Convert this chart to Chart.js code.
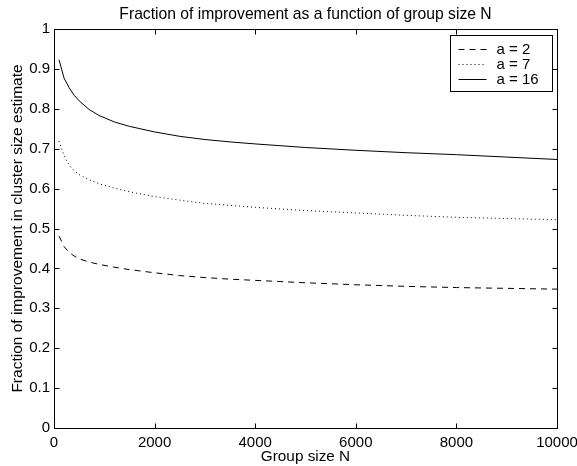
<!DOCTYPE html>
<html><head><meta charset="utf-8">
<script src="https://cdn.jsdelivr.net/npm/chart.js@4/dist/chart.umd.min.js"></script>
<style>html,body{margin:0;padding:0;background:#fff}#wrap{width:577px;height:466px}</style>
</head><body><div id="wrap"><canvas id="c" width="577" height="466"></canvas></div>
<script>
const chartTitle = 'Fraction of improvement as a function of group size N';
const xTitle = 'Group size N';
const yTitle = 'Fraction of improvement in cluster size estimate';
const groupSizes = [100,200,300,400,500,700,900,1200,1500,2000,2500,3000,3500,4000,5000,6000,7000,8000,9000,10000];
const fracA2  = [0.481,0.455,0.440,0.431,0.424,0.416,0.410,0.403,0.397,0.389,0.382,0.377,0.373,0.370,0.364,0.359,0.355,0.352,0.350,0.348];
const fracA7  = [0.719,0.682,0.659,0.645,0.635,0.622,0.612,0.601,0.592,0.580,0.571,0.563,0.558,0.553,0.545,0.539,0.533,0.528,0.525,0.522];
const fracA16 = [0.923,0.877,0.853,0.834,0.820,0.798,0.783,0.767,0.756,0.742,0.731,0.723,0.717,0.712,0.703,0.696,0.690,0.685,0.679,0.673];
const seriesLabels = ['a = 2','a = 7','a = 16'];
const xTickValues = [0,2000,4000,6000,8000,10000];
const xTickLabels = ['0','2000','4000','6000','8000','10000'];
const yTickValues = [0,0.1,0.2,0.3,0.4,0.5,0.6,0.7,0.8,0.9,1];
const yTickLabels = ['0','0.1','0.2','0.3','0.4','0.5','0.6','0.7','0.8','0.9','1'];

const FONT = 'Liberation Sans, Arial, Helvetica, sans-serif';
const dashStyles = [[6,5],[1,3],[]];
const seriesData = [fracA2, fracA7, fracA16];

const datasets = seriesData.map((arr, k) => ({
  label: seriesLabels[k],
  data: groupSizes.map((n, i) => ({x: n, y: arr[i]})),
  borderColor: '#000',
  borderWidth: 1,
  borderDash: dashStyles[k],
  pointRadius: 0,
  fill: false,
  tension: 0
}));

const matlabAxes = {
  id: 'matlabAxes',
  afterDraw(chart) {
    const ctx = chart.ctx, ca = chart.chartArea;
    const xs = chart.scales.x, ys = chart.scales.y;
    const L = Math.round(ca.left) + 0.5, R = Math.round(ca.right) + 0.5;
    const T = Math.round(ca.top) + 0.5, B = Math.round(ca.bottom) + 0.5;
    ctx.save();
    ctx.strokeStyle = '#000';
    ctx.lineWidth = 1;
    ctx.setLineDash([]);
    ctx.strokeRect(L, T, R - L, B - T);
    const tl = 5;
    ctx.beginPath();
    xTickValues.forEach(v => {
      const px = Math.round(xs.getPixelForValue(v)) + 0.5;
      ctx.moveTo(px, B); ctx.lineTo(px, B - tl);
      ctx.moveTo(px, T); ctx.lineTo(px, T + tl);
    });
    yTickValues.forEach(v => {
      const py = Math.round(ys.getPixelForValue(v)) + 0.5;
      ctx.moveTo(L, py); ctx.lineTo(L + tl, py);
      ctx.moveTo(R, py); ctx.lineTo(R - tl, py);
    });
    ctx.stroke();
    // legend
    const bw = 102, bh = 56;
    const bx = Math.round(ca.right) - 5 - bw + 0.5, by = Math.round(ca.top) + 6 + 0.5;
    ctx.fillStyle = '#fff';
    ctx.fillRect(bx, by, bw, bh);
    ctx.strokeRect(bx, by, bw, bh);
    ctx.font = '15px ' + FONT;
    ctx.textBaseline = 'middle';
    ctx.textAlign = 'left';
    chart.data.datasets.forEach((ds, k) => {
      const yy = Math.round(by + 13 + k * 15) + 0.5;
      ctx.beginPath();
      ctx.setLineDash(ds.borderDash);
      ctx.moveTo(bx + 8, yy); ctx.lineTo(bx + 36, yy);
      ctx.stroke();
      ctx.setLineDash([]);
      ctx.fillStyle = '#000';
      ctx.fillText(ds.label, bx + 46, yy);
    });
    ctx.restore();
  }
};

new Chart(document.getElementById('c'), {
  type: 'line',
  data: { datasets },
  options: {
    responsive: false,
    devicePixelRatio: 1,
    animation: false,
    layout: { autoPadding: false, padding: { left: 0, right: 20, top: 0, bottom: 0 } },
    plugins: {
      legend: { display: false },
      tooltip: { enabled: false },
      title: {
        display: true, fullSize: false, text: chartTitle, color: '#000',
        font: { family: FONT, size: 15.7, weight: 'normal' },
        padding: { top: 5.3, bottom: 4.86 }
      }
    },
    scales: {
      x: {
        type: 'linear', min: 0, max: 10000,
        afterBuildTicks: s => { s.ticks = xTickValues.map(v => ({value: v})); },
        afterFit: s => { s.height = 38; s.paddingLeft = 0; s.paddingRight = 0; },
        grid: { display: false, drawTicks: false },
        border: { display: false },
        ticks: { color: '#000', font: { family: FONT, size: 15 }, padding: 6, maxRotation: 0,
          callback: (v, i) => xTickLabels[i] },
        title: { display: true, text: xTitle, color: '#000', font: { family: FONT, size: 15.3 }, padding: { top: 0, bottom: 0 } }
      },
      y: {
        type: 'linear', min: 0, max: 1,
        afterBuildTicks: s => { s.ticks = yTickValues.map(v => ({value: v})); },
        afterFit: s => { s.width = 54; s.paddingTop = 0; s.paddingBottom = 0; },
        grid: { display: false, drawTicks: false },
        border: { display: false },
        ticks: { color: '#000', font: { family: FONT, size: 15 }, padding: 4,
          callback: (v, i) => yTickLabels[i] },
        title: { display: true, text: yTitle, color: '#000', font: { family: FONT, size: 15.5 }, padding: { top: 8.7, bottom: 0 } }
      }
    }
  },
  plugins: [matlabAxes]
});
</script></body></html>
